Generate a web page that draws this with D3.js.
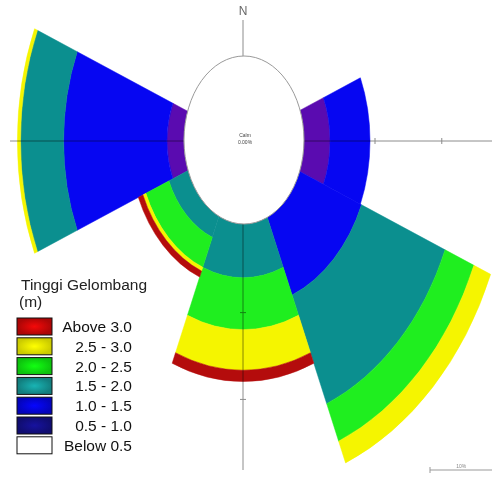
<!DOCTYPE html>
<html lang="en">

<head>
    <meta charset="UTF-8">
    <title>Wave rose</title>
    <style>
        body {
            margin: 0;
            background: #fff;
        }

        text {
            font-family: "Liberation Sans", Arial, sans-serif;
        }

        .compass {
            mix-blend-mode: multiply;
        }
    </style>
</head>

<body>
    <div class="canvas"></div>

    <script src="https://d3js.org/d3.v7.min.js"></script>
    <script>
        // directions (degrees clockwise from north)
        const directions = ["N", "NE", "E", "SE", "S", "SW", "W", "NW"];
        const dirAngles = [0, 45, 90, 135, 180, 225, 270, 315];

        // wave height classes, inner to outer
        const classes = ["Below 0.5", "0.5 - 1.0", "1.0 - 1.5", "1.5 - 2.0", "2.0 - 2.5", "2.5 - 3.0", "Above 3.0"];
        const classColors = ["#ffffff", "#5a0bb0", "#0606f2", "#0b8f8f", "#1fee1f", "#f5f500", "#b40c0c"];
        const legendColors = ["#ffffff", "#14108a", "#0505e6", "#169c9c", "#10f010", "#fcfc00", "#d40808"];

        // frequency (%) per direction, one array per class
        const below05 = [0, 0, 0, 0, 0, 0, 0, 0];
        const h05to10 = [0, 0, 4.5, 0, 0, 0, 2.7, 0];
        const h10to15 = [0, 0, 6.4, 11.1, 0, 0, 16.6, 0];
        const h15to20 = [0, 0, 0, 14.5, 7.4, 3.4, 6.9, 0];
        const h20to25 = [0, 0, 0, 5.0, 6.4, 4.0, 0, 0];
        const h25to30 = [0, 0, 0, 2.9, 5.0, 0.5, 0.5, 0];
        const above30 = [0, 0, 0, 0, 1.4, 0.8, 0, 0];
        const seriesValues = [below05, h05to10, h10to15, h15to20, h20to25, h25to30, above30];

        const radialTicks = [11.7, 22.4];   // % marks on the compass lines
        const scaleBarValue = 10;          // %
        const calmText = ["Calm", "0.00%"];

        const width = 492, height = 479;
        const cent = { x: 243, y: 141 };
        const stretch = 1.3;   // the picture is taller than wide
        const sectorWidth = 45;

        const svg = d3.select('.canvas')
            .append('svg')
            .attr('width', width)
            .attr('height', height);

        svg.append('rect')
            .attr('width', width)
            .attr('height', height)
            .attr('fill', '#fff');

        // 6.24 px per percent, bars start at the calm circle
        const rScale = d3.scaleLinear()
            .domain([0, 10])
            .range([59, 59 + 62.4]);

        const rows = directions.map((d, i) => {
            const row = { dir: d, angle: dirAngles[i] };
            classes.forEach((c, j) => row[c] = seriesValues[j][i]);
            return row;
        });

        const stacked = d3.stack().keys(classes)(rows);

        const rad = Math.PI / 180;
        const arcPath = d3.arc()
            .innerRadius(d => rScale(d[0]))
            .outerRadius(d => rScale(d[1]))
            .startAngle(d => (d.data.angle - sectorWidth / 2) * rad)
            .endAngle(d => (d.data.angle + sectorWidth / 2) * rad);

        const graph = svg.append('g')
            .attr('transform', `translate(${cent.x},${cent.y}) scale(1,${stretch})`);

        stacked.forEach((s, j) => {
            graph.selectAll(null)
                .data(s.filter(d => d[1] > d[0]))
                .enter()
                .append('path')
                .attr('d', arcPath)
                .attr('fill', classColors[j])
                .attr('stroke', classColors[j])
                .attr('stroke-width', 0.5)
                .attr('vector-effect', 'non-scaling-stroke');
        });

        // compass lines
        const axisColor = '#8c8c8c';
        const compass = svg.append('g').attr('class', 'compass');
        compass.append('line')
            .attr('x1', 10).attr('x2', width)
            .attr('y1', cent.y).attr('y2', cent.y)
            .attr('stroke', axisColor).attr('stroke-width', 1);
        compass.append('line')
            .attr('x1', cent.x).attr('x2', cent.x)
            .attr('y1', 20).attr('y2', 470)
            .attr('stroke', axisColor).attr('stroke-width', 1);

        radialTicks.forEach(t => {
            const r = rScale(t);
            // east
            compass.append('line')
                .attr('x1', cent.x + r).attr('x2', cent.x + r)
                .attr('y1', cent.y - 3).attr('y2', cent.y + 3)
                .attr('stroke', axisColor);
            // south
            compass.append('line')
                .attr('x1', cent.x - 3).attr('x2', cent.x + 3)
                .attr('y1', cent.y + r * stretch).attr('y2', cent.y + r * stretch)
                .attr('stroke', axisColor);
        });

        // calm circle
        svg.append('ellipse')
            .attr('cx', cent.x + 1)
            .attr('cy', cent.y - 1)
            .attr('rx', rScale(0) + 1)
            .attr('ry', 84)
            .attr('fill', '#fff')
            .attr('stroke', '#9a9a9a')
            .attr('stroke-width', 1);

        svg.selectAll('.calm')
            .data(calmText)
            .enter()
            .append('text')
            .attr('class', 'calm')
            .attr('x', cent.x + 2)
            .attr('y', (d, i) => cent.y - 4 + i * 7)
            .attr('text-anchor', 'middle')
            .attr('font-size', 5)
            .attr('fill', '#444')
            .text(d => d);

        svg.append('text')
            .attr('x', cent.x)
            .attr('y', 15)
            .attr('text-anchor', 'middle')
            .attr('font-size', 12)
            .attr('fill', '#666')
            .text('N');

        // scale bar
        const barLen = rScale(scaleBarValue) - rScale(0);
        const bar = svg.append('g').attr('transform', 'translate(430,470)');
        bar.append('line').attr('x1', 0).attr('x2', barLen)
            .attr('stroke', '#999');
        bar.append('line').attr('y1', -3).attr('y2', 3)
            .attr('stroke', '#999');
        bar.append('text')
            .attr('x', barLen / 2).attr('y', -2)
            .attr('text-anchor', 'middle')
            .attr('font-size', 5)
            .attr('fill', '#888')
            .text(scaleBarValue + '%');

        // legend
        const defs = svg.append('defs');
        legendColors.forEach((c, j) => {
            const g = defs.append('radialGradient').attr('id', 'sw' + j);
            g.append('stop').attr('offset', '0%').attr('stop-color', j === 0 ? c : d3.color(c).brighter(0.4));
            g.append('stop').attr('offset', '100%').attr('stop-color', j === 0 ? c : d3.color(c).darker(0.6));
        });

        const legend = svg.append('g');
        legend.append('text')
            .attr('x', 21).attr('y', 290)
            .attr('font-size', 15.5)
            .attr('fill', '#222')
            .text('Tinggi Gelombang');
        legend.append('text')
            .attr('x', 19).attr('y', 307)
            .attr('font-size', 15.5)
            .attr('fill', '#222')
            .text('(m)');

        const legendOrder = d3.range(classes.length).reverse();
        const items = legend.selectAll('.item')
            .data(legendOrder)
            .enter()
            .append('g')
            .attr('class', 'item')
            .attr('transform', (d, i) => `translate(17,${318 + i * 19.8})`);

        items.append('rect')
            .attr('width', 35)
            .attr('height', 17)
            .attr('fill', d => `url(#sw${d})`)
            .attr('stroke', '#111')
            .attr('stroke-width', 1);

        items.append('text')
            .attr('x', 115)
            .attr('y', 14)
            .attr('text-anchor', 'end')
            .attr('font-size', 15.5)
            .attr('fill', '#111')
            .text(d => classes[d]);
    </script>
</body>

</html>
